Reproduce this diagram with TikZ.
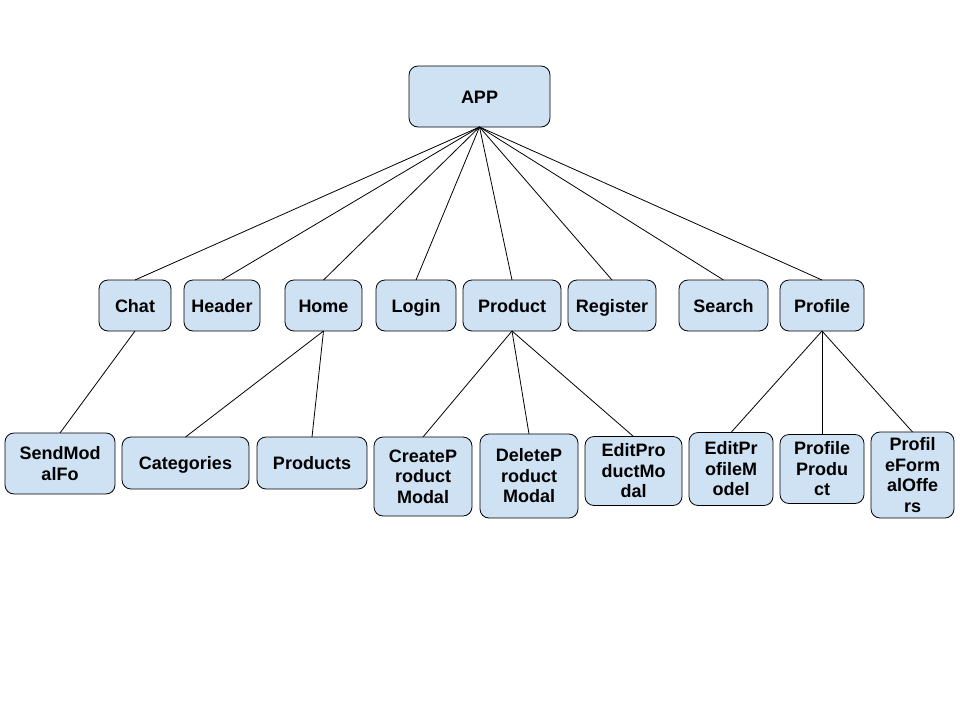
\documentclass[tikz,border=0pt]{standalone}
\usepackage{fontspec}
\setmainfont{Liberation Sans}
\usetikzlibrary{positioning}
\definecolor{boxBlue}{HTML}{CFE2F3}

\begin{document}
\begin{tikzpicture}[x=1pt, y=-1pt, line width=0.8pt, draw=black, inner sep=0pt, outer sep=0pt]
			\tikzset{comp/.style={rectangle,rounded corners=9pt,line width=0.8pt,draw=black,fill=boxBlue,text=black,align=center,outer sep=0pt,font=\bfseries\fontsize{18}{20.5}\selectfont},
				oneline/.style={text height=15pt,text depth=2pt}}
			\useasboundingbox (0,0) rectangle (960,720);

			% Root
			\node[comp, oneline, minimum width=141pt, minimum height=61pt] (app) at (479.5,96.5) {APP};

			% Components
			\node[comp, oneline, minimum width=72pt, minimum height=51pt] (chat) at (135,305.5) {Chat};
			\node[comp, oneline, minimum width=76pt, minimum height=51pt] (header) [right=13pt of chat] {Header};
			\node[comp, oneline, minimum width=77pt, minimum height=51pt] (home) [right=25pt of header] {Home};
			\node[comp, oneline, minimum width=80pt, minimum height=51pt] (login) [right=14pt of home] {Login};
			\node[comp, oneline, minimum width=98pt, minimum height=51pt] (product) [right=7pt of login] {Product};
			\node[comp, oneline, minimum width=88pt, minimum height=51pt] (register) [right=7pt of product] {Register};
			\node[comp, oneline, minimum width=89pt, minimum height=51pt] (search) [right=23pt of register] {Search};
			\node[comp, oneline, minimum width=84pt, minimum height=51pt] (profile) [right=12pt of search] {Profile};

			% Sub components
			\node[comp, minimum width=110pt, minimum height=61pt] (sendModal) at (60,463.5) {SendMod\\alFo};
			\node[comp, oneline, minimum width=127pt, minimum height=52pt] (categories) at (185.5,463) {Categories};
			\node[comp, oneline, minimum width=110pt, minimum height=52pt] (products) at (312,463) {Products};
			\node[comp, minimum width=98pt, minimum height=79pt] (createModal) at (423,476.5) {CreateP\\roduct\\Modal};
			\node[comp, minimum width=98pt, minimum height=84pt] (deleteModal) at (529,476) {DeleteP\\roduct\\Modal};
			\node[comp, minimum width=97pt, minimum height=69pt] (editProdModal) at (633.5,471) {EditPro\\ductMo\\dal};
			\node[comp, minimum width=84pt, minimum height=73pt] (editProfModel) at (731,469) {EditPr\\ofileM\\odel};
			\node[comp, minimum width=84pt, minimum height=69pt] (profProduct) at (822,469) {Profile\\Produ\\ct};
			\node[comp, minimum width=83pt, minimum height=86pt] (formalOffers) at (912.5,475) {Profil\\eForm\\alOffe\\rs};

			% Links
			\path
				(app.south)	edge	(chat.north)
				(app.south)	edge	(header.north)
				(app.south)	edge	(home.north)
				(app.south)	edge	(login.north)
				(app.south)	edge	(product.north)
				(app.south)	edge	(register.north)
				(app.south)	edge	(search.north)
				(app.south)	edge	(profile.north)
				(chat.south)	edge	(sendModal.north)
				(home.south)	edge	(categories.north)
				(home.south)	edge	(products.north)
				(product.south)	edge	(createModal.north)
				(product.south)	edge	(deleteModal.north)
				(product.south)	edge	(editProdModal.north)
				(profile.south)	edge	(editProfModel.north)
				(profile.south)	edge	(profProduct.north)
				(profile.south)	edge	(formalOffers.north)
				;
\end{tikzpicture}
\end{document}
